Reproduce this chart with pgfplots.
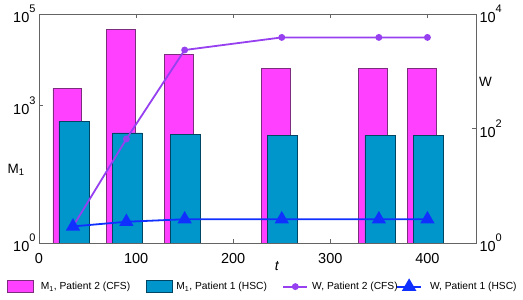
\documentclass[border=0pt]{standalone}
\usepackage{fontspec}
\setmainfont{Liberation Sans}
\usepackage{pgfplots}
\pgfplotsset{compat=1.18}

\definecolor{cfsbar}{RGB}{255,64,255}
\definecolor{cfsedge}{RGB}{125,45,125}
\definecolor{hscbar}{RGB}{0,150,204}
\definecolor{hscedge}{RGB}{0,70,100}
\definecolor{cfsline}{RGB}{150,64,240}
\definecolor{hscline}{RGB}{16,48,255}
\definecolor{axgray}{RGB}{100,100,100}

\newcommand{\tp}[1]{10\raisebox{0.68em}{\fontsize{11}{11}\selectfont #1}}

\pgfplotsset{
  mypatch/.style={legend image code/.code={\draw[##1] (0pt,-6pt) rectangle (26pt,6pt);}},
  myline/.style={legend image code/.code={\draw[mark repeat=2,mark phase=2,##1] plot coordinates {(0pt,0pt) (12pt,0pt) (24pt,0pt)};}},
}

\begin{document}
\begin{tikzpicture}
\path[use as bounding box] (-39pt,-57pt) rectangle (484pt,243pt);
\begin{axis}[
  scale only axis, width=437pt, height=229pt,
  xmin=0, xmax=450, ymode=log,
  axis line style={axgray}, tick style={axgray, line width=0.5pt},
  tick align=inside, major tick length=4pt,
  yminorticks=false,
  ticklabel style={font=\fontsize{14.5}{14.5}\selectfont},
  ymin=1, ymax=1e5,
  xtick={0,100,200,300,400},
  xticklabel style={/pgf/number format/assume math mode=true, yshift=-7pt},
  ytick={1,1000,100000},
  yticklabels={\tp{0},\tp{3},\tp{5}},
  ytick pos=left,
  xlabel={\textit{t}},
  xlabel style={font=\fontsize{14}{14}\selectfont, at={(axis description cs:0.545,-0.1)}, anchor=center},
  ylabel={M\textsubscript{1}},
  ylabel style={font=\fontsize{13.5}{13.5}\selectfont, rotate=-90, at={(axis description cs:-0.0526,0.32)}, anchor=center},
]
\addplot[ybar, bar width=29.5, bar shift=-6, fill=cfsbar, draw=cfsedge, line width=0.6pt]
  coordinates {(35,2390) (90,46400) (150,13200) (250,6520) (350,6520) (400,6520)};
\addplot[ybar, bar width=31, bar shift=1, fill=hscbar, draw=hscedge, line width=0.6pt]
  coordinates {(35,461) (90,253) (150,232) (250,228) (350,228) (400,228)};
\end{axis}
\begin{axis}[
  scale only axis, width=437pt, height=229pt,
  xmin=0, xmax=450, ymode=log,
  axis line style={axgray}, tick style={axgray, line width=0.5pt},
  tick align=inside, major tick length=4pt,
  yminorticks=false,
  ticklabel style={font=\fontsize{14.5}{14.5}\selectfont},
  ymin=1, ymax=1e4,
  axis x line=none,
  axis y line*=right,
  ytick={1,100,10000},
  yticklabels={\tp{0},\tp{2},\tp{4}},
  ylabel={W},
  ylabel style={font=\fontsize{13.5}{13.5}\selectfont, rotate=-90, at={(axis description cs:1.0217,0.703)}, anchor=center},
  legend columns=4,
  legend style={at={(axis description cs:-0.080,-0.19)}, anchor=west, draw=none, fill=none,
    font=\fontsize{10.25}{12}\selectfont,
    nodes={inner sep=0pt},
    column sep=0pt,
  },
  legend cell align=left,
]
\addlegendimage{mypatch, fill=cfsbar, draw=cfsedge, line width=0.6pt}
\addlegendentry{\makebox[112pt][l]{\hspace{7pt}M\textsubscript{1}, Patient 2 (CFS)}}
\addlegendimage{mypatch, fill=hscbar, draw=hscedge, line width=0.6pt}
\addlegendentry{\makebox[110pt][l]{\hspace{4pt}M\textsubscript{1}, Patient 1 (HSC)}}
\addplot[myline, cfsline, line width=1.8pt, mark=*, mark size=2.5pt]
  coordinates {(35,1.95) (90,65.6) (150,2350) (250,3900) (350,3900) (400,3900)};
\addlegendentry{\makebox[88pt][l]{\hspace{4pt}W, Patient 2 (CFS)}}
\addplot[myline, hscline, line width=1.8pt, mark=triangle*, mark size=6.5pt]
  coordinates {(35,1.95) (90,2.35) (150,2.6) (250,2.6) (350,2.6) (400,2.6)};
\addlegendentry{\hspace{8pt}W, Patient 1 (HSC)}
\end{axis}
\end{tikzpicture}
\end{document}
